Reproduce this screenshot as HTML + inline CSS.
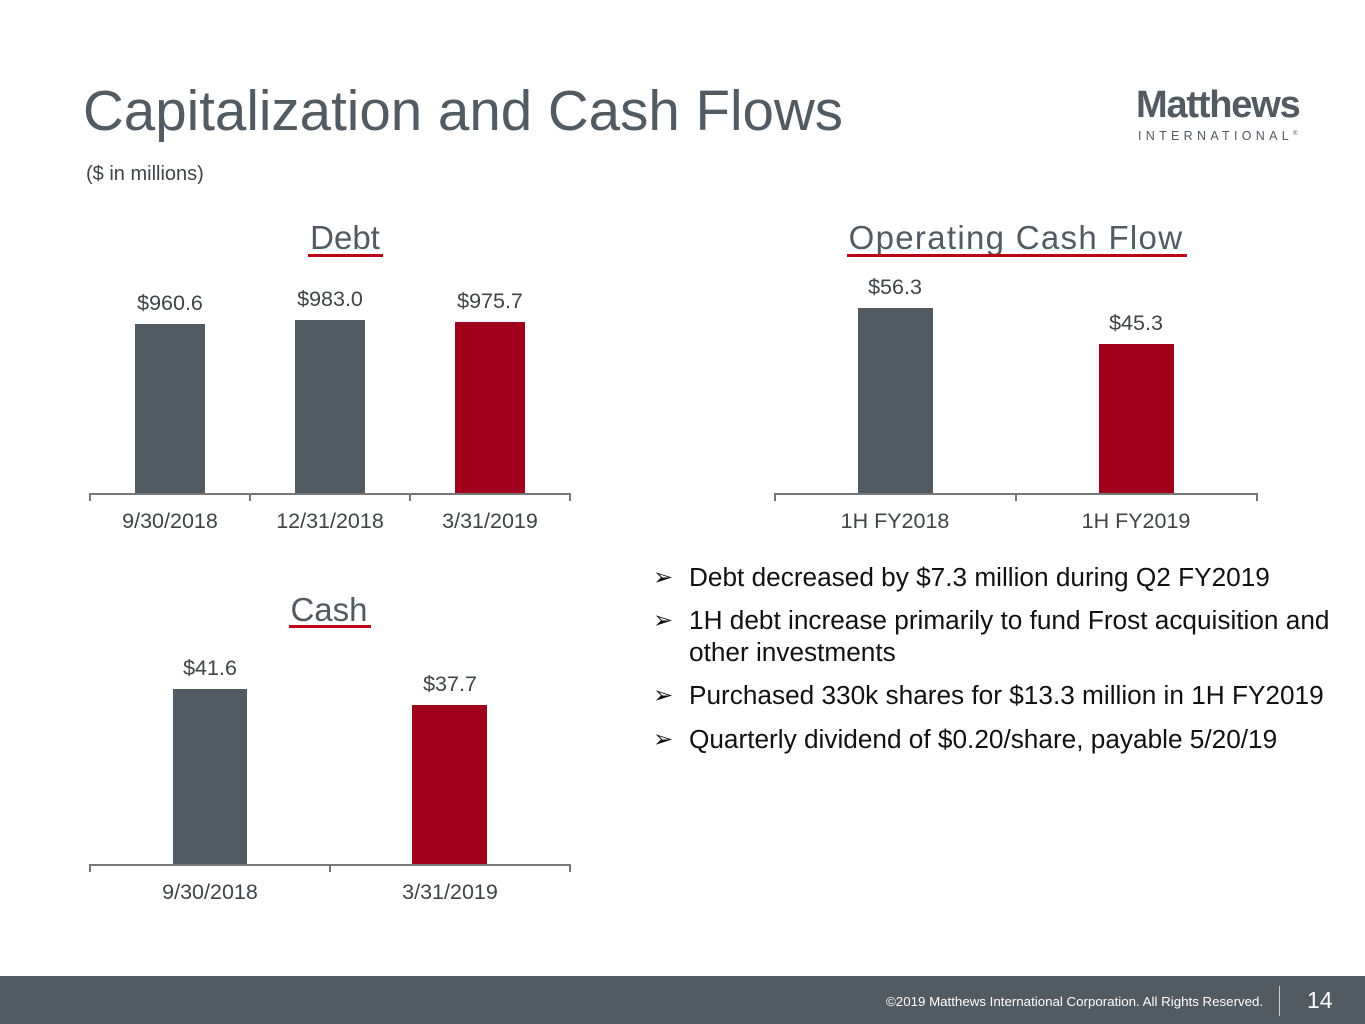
<!DOCTYPE html>
<html><head><style>
body{margin:0;width:1365px;height:1024px;position:relative;background:#fff;font-family:"Liberation Sans",sans-serif;overflow:hidden}
.a{position:absolute;white-space:nowrap}
.g{background:#525a62;position:absolute}
.r{background:#a0001c;position:absolute}
.l{position:absolute;font-size:21.5px;color:#3f4448;text-align:center;width:160px}
.t{position:absolute;font-size:33px;color:#525a62;text-align:center;line-height:32px}
.u{position:absolute;height:3px;background:#c00418}
.ax{position:absolute;height:2px;background:#777}
.tk{position:absolute;width:2px;height:8px;background:#777}
.b{position:absolute;left:653px;font-size:26.2px;color:#111;line-height:32px;white-space:nowrap}
.b span{position:absolute;left:0;font-size:24px;font-family:"DejaVu Sans",sans-serif}
.b div{margin-left:36px}
</style></head><body>
<div class="a" style="left:83px;top:78px;font-size:56.5px;color:#525a62">Capitalization and Cash Flows</div>
<div class="a" style="left:86px;top:163px;font-size:20px;color:#3f4448">($ in millions)</div>
<div class="a" style="left:1136px;top:84px;font-size:38px;font-weight:bold;color:#525a62;letter-spacing:-1.2px">Matthews</div>
<div class="a" style="left:1138px;top:129px;font-size:12.5px;color:#525a62;letter-spacing:4.3px">INTERNATIONAL<sup style="font-size:6px;letter-spacing:0">®</sup></div>

<div class="t" style="left:265px;width:160px;top:222px">Debt</div>
<div class="u" style="left:308px;width:75px;top:254px"></div>
<div class="g" style="left:135px;top:324px;width:70px;height:170px"></div>
<div class="g" style="left:295px;top:320px;width:70px;height:174px"></div>
<div class="r" style="left:455px;top:322px;width:70px;height:172px"></div>
<div class="l" style="left:90px;top:291px">$960.6</div>
<div class="l" style="left:250px;top:287px">$983.0</div>
<div class="l" style="left:410px;top:289px">$975.7</div>
<div class="ax" style="left:90px;width:481px;top:493px"></div>
<div class="tk" style="left:89px;top:493px"></div><div class="tk" style="left:249px;top:493px"></div><div class="tk" style="left:409px;top:493px"></div><div class="tk" style="left:569px;top:493px"></div>
<div class="l" style="left:90px;top:509px">9/30/2018</div>
<div class="l" style="left:250px;top:509px">12/31/2018</div>
<div class="l" style="left:410px;top:509px">3/31/2019</div>

<div class="t" style="left:816px;width:400px;top:222px;letter-spacing:1.3px">Operating Cash Flow</div>
<div class="u" style="left:847px;width:340px;top:254px"></div>
<div class="g" style="left:858px;top:308px;width:75px;height:186px"></div>
<div class="r" style="left:1099px;top:344px;width:75px;height:150px"></div>
<div class="l" style="left:815px;top:275px">$56.3</div>
<div class="l" style="left:1056px;top:311px">$45.3</div>
<div class="ax" style="left:775px;width:483px;top:493px"></div>
<div class="tk" style="left:774px;top:493px"></div><div class="tk" style="left:1015px;top:493px"></div><div class="tk" style="left:1256px;top:493px"></div>
<div class="l" style="left:815px;top:509px">1H FY2018</div>
<div class="l" style="left:1056px;top:509px">1H FY2019</div>

<div class="t" style="left:249px;width:160px;top:594px">Cash</div>
<div class="u" style="left:289px;width:82px;top:625px"></div>
<div class="g" style="left:173px;top:689px;width:74px;height:176px"></div>
<div class="r" style="left:412px;top:705px;width:75px;height:160px"></div>
<div class="l" style="left:130px;top:656px">$41.6</div>
<div class="l" style="left:370px;top:672px">$37.7</div>
<div class="ax" style="left:90px;width:481px;top:864px"></div>
<div class="tk" style="left:89px;top:864px"></div><div class="tk" style="left:329px;top:864px"></div><div class="tk" style="left:569px;top:864px"></div>
<div class="l" style="left:130px;top:880px">9/30/2018</div>
<div class="l" style="left:370px;top:880px">3/31/2019</div>

<div class="b" style="top:561px"><span>➢</span><div>Debt decreased by $7.3 million during Q2 FY2019</div></div>
<div class="b" style="top:604px"><span>➢</span><div>1H debt increase primarily to fund Frost acquisition and<br>other investments</div></div>
<div class="b" style="top:679px"><span>➢</span><div>Purchased 330k shares for $13.3 million in 1H FY2019</div></div>
<div class="b" style="top:723px"><span>➢</span><div>Quarterly dividend of $0.20/share, payable 5/20/19</div></div>

<div class="g" style="left:0;top:976px;width:1365px;height:48px"></div>
<div class="a" style="left:886px;top:994px;font-size:13.3px;color:#fff">©2019 Matthews International Corporation. All Rights Reserved.</div>
<div class="a" style="left:1279px;top:986px;width:1px;height:30px;background:#ccc"></div>
<div class="a" style="left:1307px;top:987px;font-size:23px;color:#fff">14</div>
</body></html>
